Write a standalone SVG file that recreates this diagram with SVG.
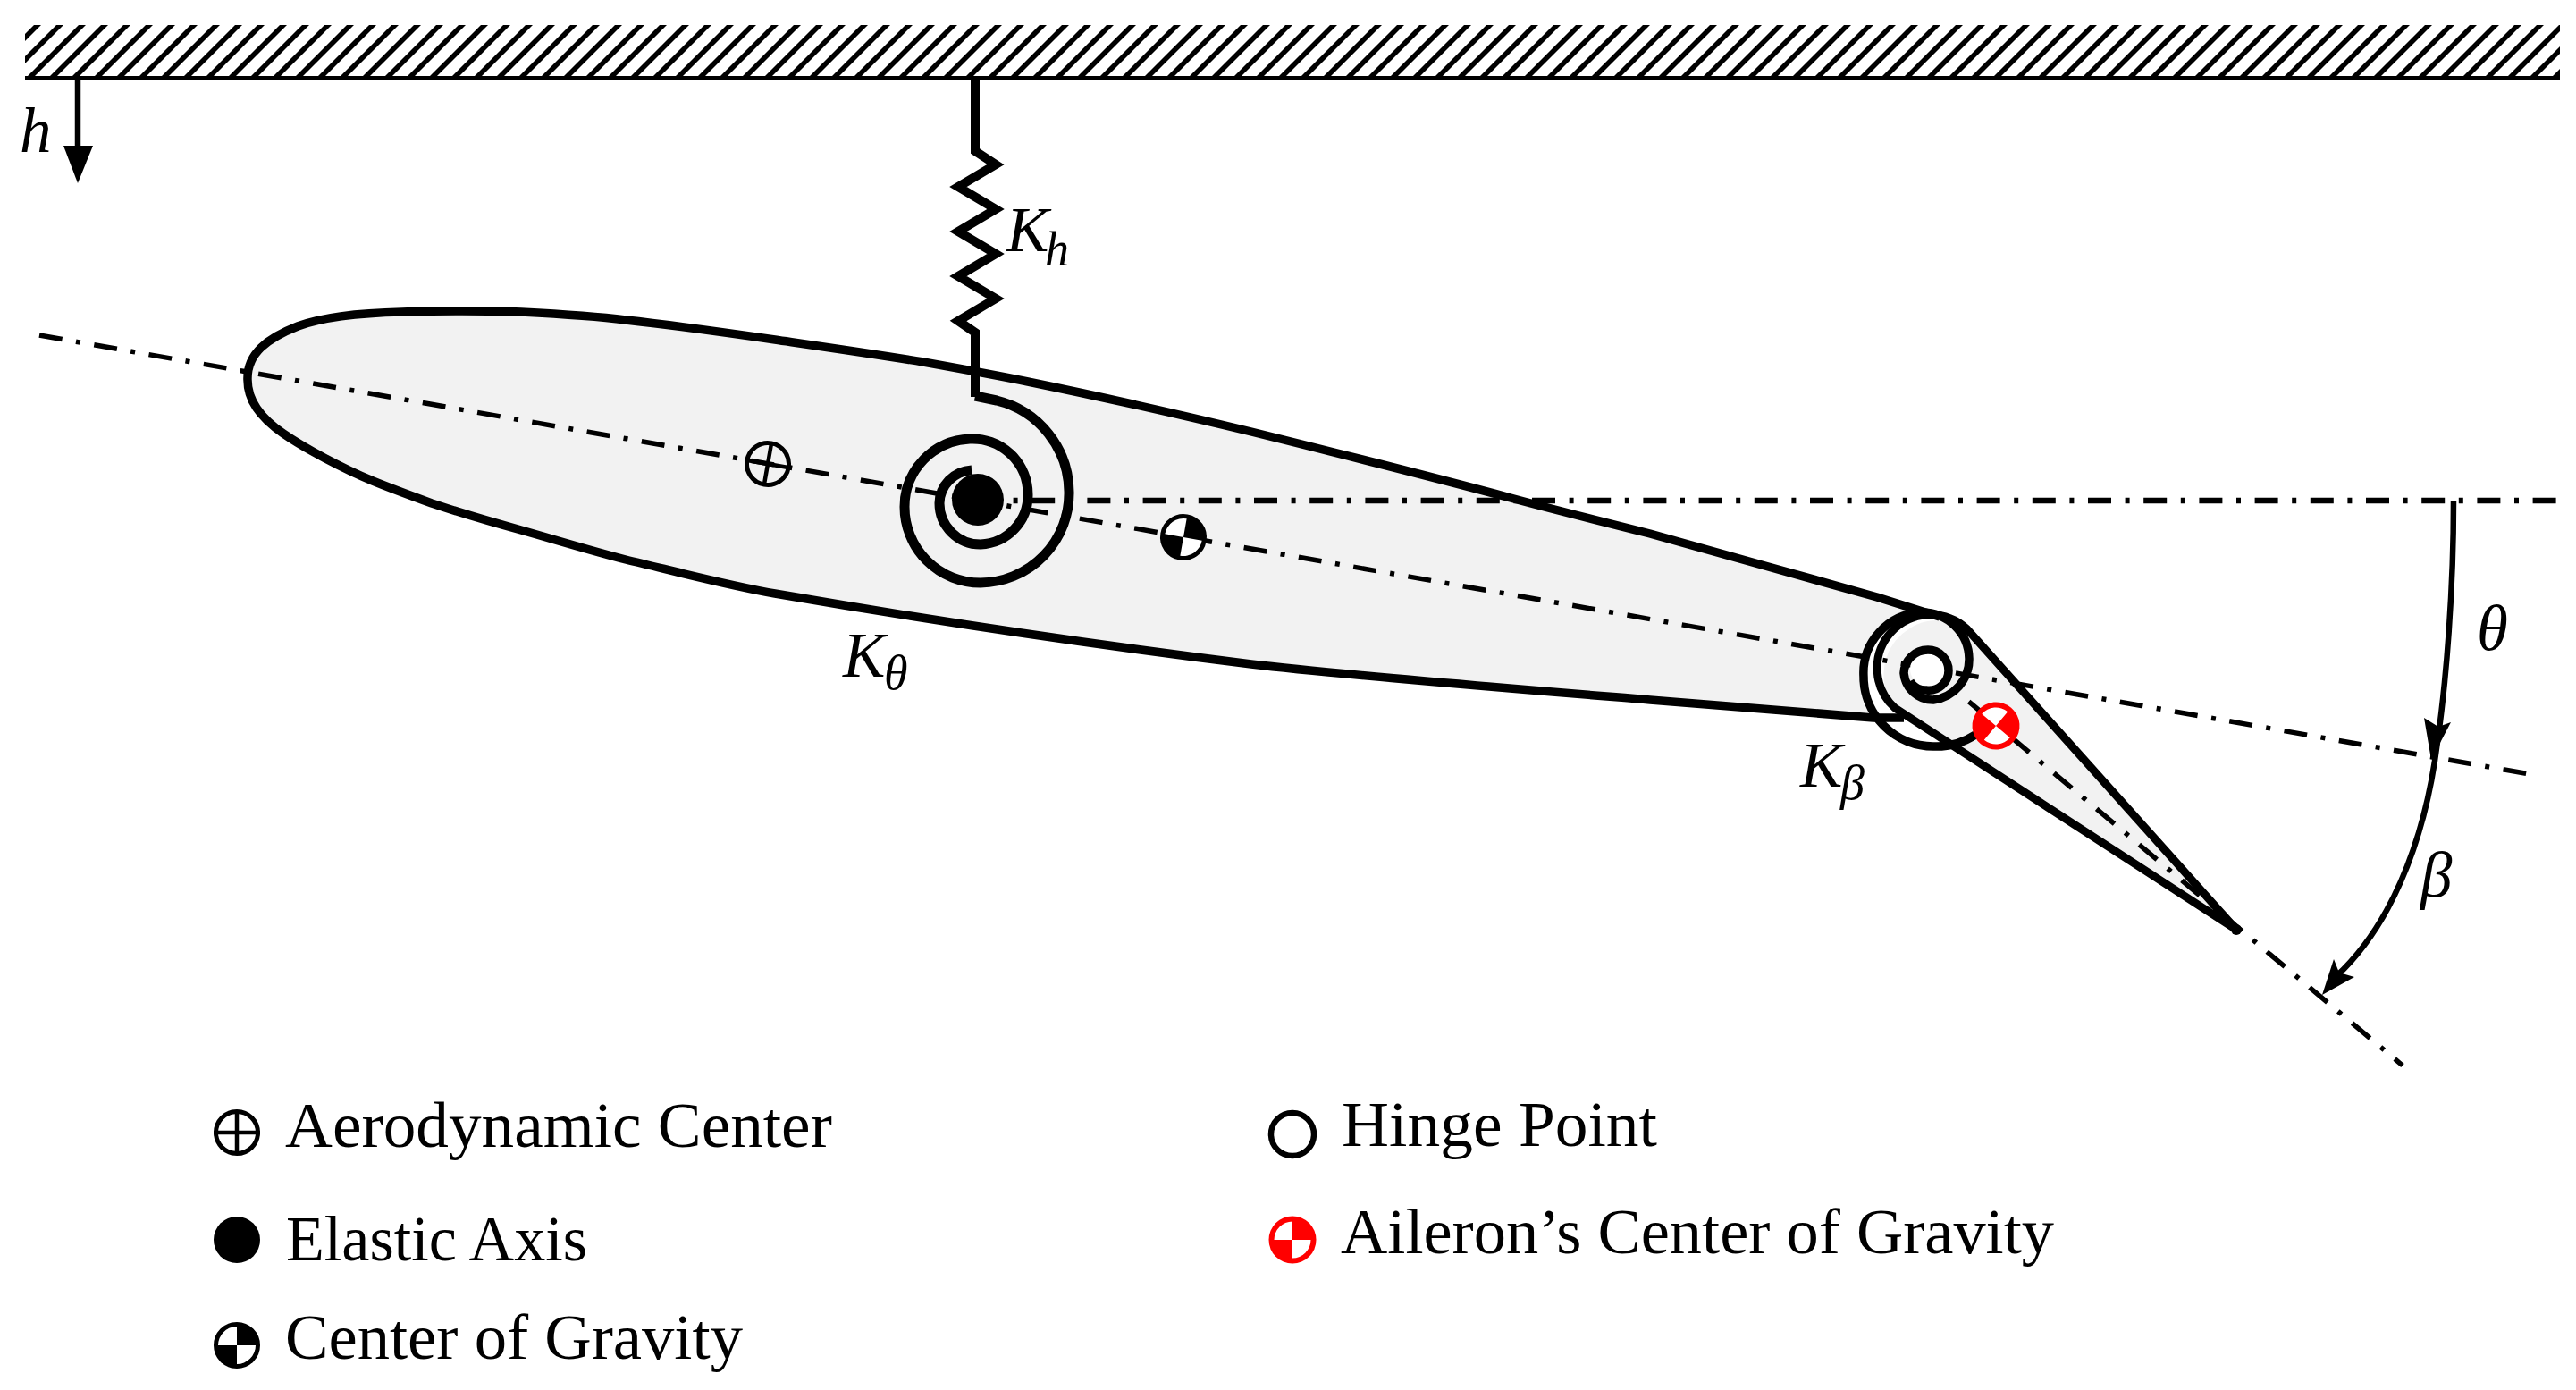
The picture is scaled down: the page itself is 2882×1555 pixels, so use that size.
<svg xmlns="http://www.w3.org/2000/svg" width="2882" height="1555" viewBox="0 0 2882 1555">
<style>
text{font-family:"Liberation Serif","Times New Roman",serif;fill:#000}
.lg{font-size:71px}
.m{font-size:71px;font-style:italic}
.s{font-size:54px;font-style:italic}
.ln{fill:none;stroke:#000;stroke-linejoin:round}
.ax{fill:none;stroke:#000;stroke-width:5.500;stroke-dasharray:26 15.6 5 15.6}
.gr{fill:#f2f2f2;stroke:none}
</style>
<defs>
<pattern id="hatch" width="25" height="100" patternUnits="userSpaceOnUse" patternTransform="translate(8 0) skewX(-45)">
<rect x="8" y="0" width="8" height="100" fill="#000"/>
</pattern>
<g id="mAC"><circle r="23.500" fill="none" stroke="#000" stroke-width="5"/><path d="M-26 0H26M0-24V24" stroke="#000" stroke-width="4.500" fill="none"/></g>
<g id="mCG"><circle r="23.500" fill="#000" stroke="#000" stroke-width="5"/><path d="M0 0V-21A21 21 0 0 0-21 0ZM0 0V21A21 21 0 0 0 21 0Z" fill="#fff"/></g>
<g id="mRed"><circle r="26.500" fill="#f00"/><path d="M0 0V-20.500A20.500 20.500 0 0 0-20.500 0ZM0 0V20.500A20.500 20.500 0 0 0 20.500 0Z" fill="#fff"/></g>
</defs>

<g id="ground">
<rect x="28" y="28" width="2836" height="58" fill="url(#hatch)"/>
<rect x="28" y="85" width="2836" height="5" fill="#000"/>
</g>

<g id="airfoil-fill">
<path class="gr" d="M2130 803L2096 803C2013 797 1930 790 1846 783C1700 771 1500 755 1400 743C1230 722 1030 692 867 664C811 654 755 639 700 626C661 616 622 604 583 593C550 584 516 574 483 563C461 555 439 547 417 538C383 524 340 501 317 485C295 470 277 450 277 425C276 395 300 378 333 365C360 355 405 350 450 349C473 348 495 348 517 348C540 348 560 348 583 349C622 351 661 353 700 358C755 364 812 372 867 380C922 388 978 396 1033 405C1072 412 1111 419 1150 427C1233 444 1317 463 1400 483C1497 507 1593 531 1690 557C1742 571 1794 584 1846 597C1931 621 2015 644 2100 668L2170 690L2150 688A68 68 0 0 0 2085 757Q2090 785 2107 803Z"/>
<path class="gr" d="M2502 1040L2206 707L2195 700A61 61 0 0 0 2120 792Z"/>
</g>

<g id="connectors">
<path class="ax" style="stroke-width:6.500" d="M1092 560H2861"/>
<path class="ax" d="M44 375L2830 866"/>
<path class="ax" d="M2155 745L2688 1192"/>
<path class="ln" style="stroke-width:6.500" d="M87 88V170"/>
<path d="M71 163H104L87 205Z" fill="#000"/>
<path class="ln" style="stroke-width:6.500" d="M2745 560C2745 660 2737 760 2727 830C2712 950 2670 1040 2614 1092"/>
<path d="M2712 803L2728 813L2742 808L2720 850Z" fill="#000"/>
<path d="M2611 1073L2617 1088L2634 1093L2598 1113Z" fill="#000"/>
</g>

<g id="airfoil-outline">
<path class="ln" style="stroke-width:9.500" d="M2130 803L2096 803C2013 797 1930 790 1846 783C1700 771 1500 755 1400 743C1230 722 1030 692 867 664C811 654 755 639 700 626C661 616 622 604 583 593C550 584 516 574 483 563C461 555 439 547 417 538C383 524 340 501 317 485C295 470 277 450 277 425C276 395 300 378 333 365C360 355 405 350 450 349C473 348 495 348 517 348C540 348 560 348 583 349C622 351 661 353 700 358C755 364 812 372 867 380C922 388 978 396 1033 405C1072 412 1111 419 1150 427C1233 444 1317 463 1400 483C1497 507 1593 531 1690 557C1742 571 1794 584 1846 597C1931 621 2015 644 2100 668L2170 690"/>
</g>

<g id="aileron">
<path class="ln" style="stroke-width:9" d="M2120 792A58 58 0 1 1 2200 703L2502 1040L2120 792Z"/>
<circle cx="2502" cy="1040" r="6" fill="#000"/>
</g>

<g id="spring-h">
<path class="ln" style="stroke-width:10;stroke-linejoin:miter" d="M1091 90V169L1114 184L1072 209L1114 234L1072 259L1114 284L1072 309L1114 334L1072 359L1091 372V444"/>
</g>

<g id="spiral-theta">
<path class="ln" style="stroke-width:11" d="M1091 443L1115 448A106 106 0 0 1 1196 550A100 100 0 0 1 1097 652A85 85 0 0 1 1012 567A76 76 0 0 1 1085 491A62 62 0 0 1 1150 553A55 55 0 0 1 1097 609A46 46 0 0 1 1051 563A38 38 0 0 1 1087 526"/>
<circle cx="1094" cy="559" r="29" fill="#000"/>
</g>

<g id="spiral-beta">
<circle cx="2157" cy="748" r="20" fill="#fff"/>
<path class="ln" style="stroke-width:9.500" d="M2210 822A80 80 0 0 1 2163 835A78 78 0 0 1 2085 757A68 68 0 0 1 2150 685A53 53 0 0 1 2203 737A46 46 0 0 1 2163 783A33 33 0 0 1 2130 753A27 27 0 0 1 2157 727A23 23 0 0 1 2180 750A22 22 0 0 1 2155 772A20 20 0 0 1 2137 762"/>
</g>

<g id="marker-ac"><use href="#mAC" transform="translate(859 519) rotate(10)"/></g>
<g id="marker-cg"><use href="#mCG" transform="translate(1324 601) rotate(10)"/></g>
<g id="marker-red"><use href="#mRed" transform="translate(2233 812) rotate(40)"/></g>

<g id="labels">
<text class="m" x="22" y="170">h</text>
<text class="m" x="1126" y="281">K</text><text class="s" x="1169" y="297">h</text>
<text class="m" x="943" y="757">K</text><text class="s" x="989" y="771">θ</text>
<text class="m" x="2014" y="880">K</text><text class="s" x="2059" y="894">β</text>
<text class="m" x="2771" y="727">θ</text>
<text class="m" x="2708" y="1003">β</text>
</g>

<g id="legend-ac"><use href="#mAC" x="265" y="1267"/><text class="lg" x="319" y="1283" textLength="612" lengthAdjust="spacingAndGlyphs">Aerodynamic Center</text></g>
<g id="legend-ea"><circle cx="265" cy="1387" r="26" fill="#000"/><text class="lg" x="320" y="1410" textLength="337" lengthAdjust="spacingAndGlyphs">Elastic Axis</text></g>
<g id="legend-cg"><use href="#mCG" x="265" y="1505"/><text class="lg" x="319" y="1520" textLength="512" lengthAdjust="spacingAndGlyphs">Center of Gravity</text></g>
<g id="legend-hinge"><circle cx="1446" cy="1269" r="24" fill="#fff" stroke="#000" stroke-width="6.500"/><text class="lg" x="1501" y="1282" textLength="353" lengthAdjust="spacingAndGlyphs">Hinge Point</text></g>
<g id="legend-red"><use href="#mRed" x="1446" y="1387"/><text class="lg" x="1500" y="1402" textLength="798" lengthAdjust="spacingAndGlyphs">Aileron’s Center of Gravity</text></g>
</svg>
